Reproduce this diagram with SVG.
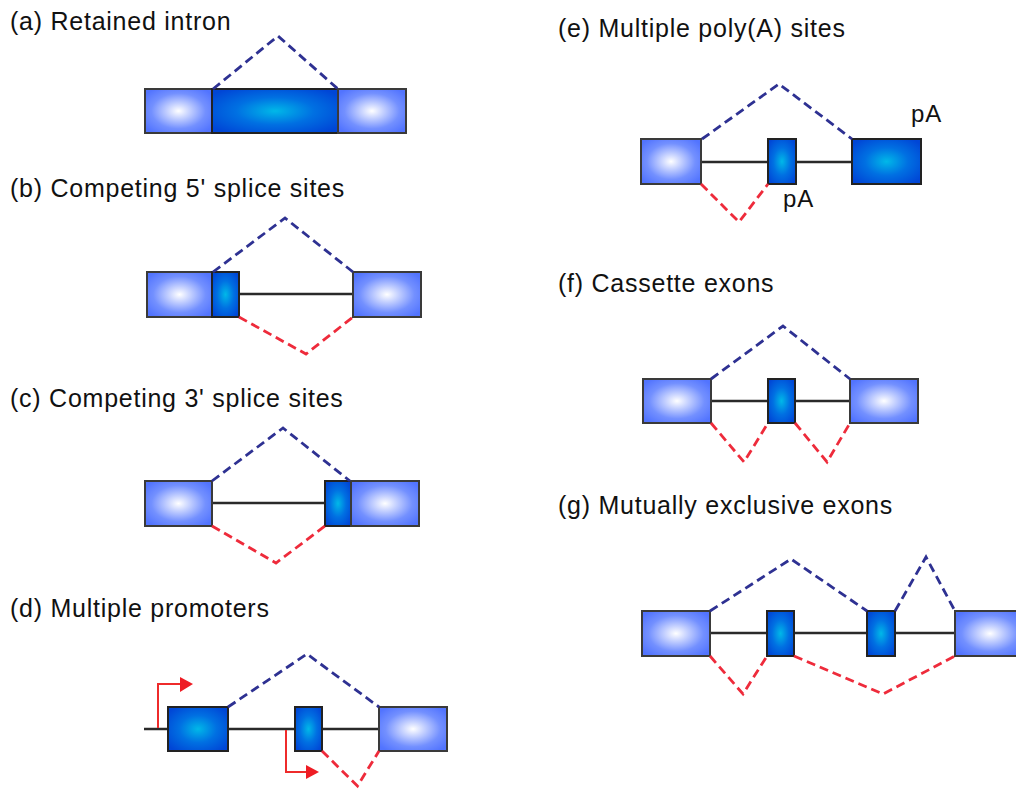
<svg xmlns="http://www.w3.org/2000/svg" width="1016" height="789" viewBox="0 0 1016 789">
<defs>
<radialGradient id="gl" cx="0.5" cy="0.5" r="0.62">
<stop offset="0" stop-color="#ffffff"/>
<stop offset="0.25" stop-color="#c9d4ff"/>
<stop offset="0.65" stop-color="#7390ff"/>
<stop offset="1" stop-color="#5274ff"/>
</radialGradient>
<radialGradient id="gd" cx="0.5" cy="0.5" r="0.62">
<stop offset="0" stop-color="#00b8e8"/>
<stop offset="0.5" stop-color="#0070e2"/>
<stop offset="1" stop-color="#0046d6"/>
</radialGradient>
<style>
.t{font-family:"Liberation Sans",Arial,sans-serif;font-size:25px;letter-spacing:0.75px;fill:#111}
.p{font-family:"Liberation Sans",Arial,sans-serif;font-size:24px;letter-spacing:0.8px;fill:#111}
.l{fill:url(#gl);stroke:#3a3a3a;stroke-width:2}
.d{fill:url(#gd);stroke:#222;stroke-width:2}
.ln{stroke:#2a2a2a;stroke-width:2.4;fill:none}
.bl{stroke:#2e3192;stroke-width:2.8;fill:none;stroke-dasharray:9 5}
.rd{stroke:#ee2b3b;stroke-width:2.8;fill:none;stroke-dasharray:9 5}
.pr{stroke:#ee2b2b;stroke-width:2;fill:none}
.ah{fill:#ee1c24}
</style>
</defs>
<rect width="1016" height="789" fill="#ffffff"/>

<g id="titles">
<text class="t" x="10" y="30">(a) Retained intron</text>
<text class="t" x="10" y="197">(b) Competing 5' splice sites</text>
<text class="t" x="10" y="407">(c) Competing 3' splice sites</text>
<text class="t" x="10" y="617">(d) Multiple promoters</text>
<text class="t" x="558" y="37">(e) Multiple poly(A) sites</text>
<text class="t" x="558" y="292">(f) Cassette exons</text>
<text class="t" x="558" y="514">(g) Mutually exclusive exons</text>
</g>

<g id="introns">
<line class="ln" x1="239" y1="294" x2="353" y2="294"/>
<line class="ln" x1="212" y1="503" x2="325" y2="503"/>
<line class="ln" x1="144" y1="729" x2="379" y2="729"/>
<line class="ln" x1="701" y1="162" x2="852" y2="162"/>
<line class="ln" x1="711" y1="401" x2="850" y2="401"/>
<line class="ln" x1="710" y1="633" x2="955" y2="633"/>
</g>

<g id="panel-a">
<rect id="a1" class="l" x="145" y="89" width="67" height="44"/>
<rect id="a2" class="d" x="212" y="89" width="126" height="44"/>
<rect id="a3" class="l" x="338" y="89" width="68" height="44"/>
</g>

<g id="panel-b">
<rect id="b1" class="l" x="147" y="272" width="65" height="45"/>
<rect id="b2" class="d" x="212" y="272" width="27" height="45"/>
<rect id="b3" class="l" x="353" y="272" width="68" height="45"/>
</g>

<g id="panel-c">
<rect id="c1" class="l" x="145" y="481" width="67" height="45"/>
<rect id="c2" class="d" x="325" y="481" width="26" height="45"/>
<rect id="c3" class="l" x="351" y="481" width="68" height="45"/>
</g>

<g id="panel-d">
<rect id="d1" class="d" x="168" y="707" width="60" height="44"/>
<rect id="d2" class="d" x="295" y="707" width="27" height="44"/>
<rect id="d3" class="l" x="379" y="707" width="68" height="44"/>
<g id="promoter1">
<path class="pr" d="M158,728 V684 H181"/>
<polygon class="ah" points="180,677 193,684 180,692"/>
</g>
<g id="promoter2">
<path class="pr" d="M286,730 V772 H307"/>
<polygon class="ah" points="306,765 319,772 306,779"/>
</g>
</g>

<g id="panel-e">
<rect id="e1" class="l" x="641" y="139" width="60" height="45"/>
<rect id="e2" class="d" x="768" y="139" width="28" height="45"/>
<rect id="e3" class="d" x="852" y="139" width="69" height="45"/>
<text class="p" x="783" y="207">pA</text>
<text class="p" x="911" y="122">pA</text>
</g>

<g id="panel-f">
<rect id="f1" class="l" x="643" y="379" width="68" height="44"/>
<rect id="f2" class="d" x="768" y="379" width="27" height="44"/>
<rect id="f3" class="l" x="850" y="379" width="68" height="44"/>
</g>

<g id="panel-g">
<rect id="g1" class="l" x="642" y="611" width="68" height="45"/>
<rect id="g2" class="d" x="767" y="611" width="27" height="45"/>
<rect id="g3" class="d" x="867" y="611" width="28" height="45"/>
<rect id="g4" class="l" x="955" y="611" width="70" height="45"/>
</g>

<g id="connectors">
<polyline class="bl" points="213,89 278,36 338,89"/>
<polyline class="bl" points="213,272 285,218 353,272"/>
<polyline class="rd" points="239,317 306,354 353,317"/>
<polyline class="bl" points="212,481 283,428 350,481"/>
<polyline class="rd" points="212,526 276,563 325,526"/>
<polyline class="bl" points="228,707 307,654 379,707"/>
<polyline class="rd" points="322,751 357.5,786 379,751"/>
<polyline class="bl" points="702,139 779,84 852,139"/>
<polyline class="rd" points="701,184 739,222 768,184"/>
<polyline class="bl" points="711,379 783,326 850,379"/>
<polyline class="rd" points="711,423 744,462 768,423"/>
<polyline class="rd" points="795,423 827,462 850,423"/>
<polyline class="bl" points="710,611 791,559 867,611"/>
<polyline class="bl" points="895,611 926,557 955,611"/>
<polyline class="rd" points="710,656 743,694 767,656"/>
<polyline class="rd" points="794,656 883,694 955,656"/>
</g>
</svg>
